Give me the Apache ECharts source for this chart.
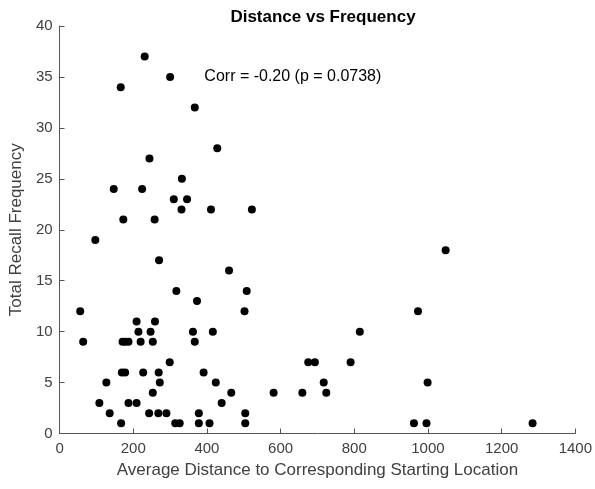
<!DOCTYPE html>
<html><head><meta charset="utf-8">
<script src="https://cdn.jsdelivr.net/npm/echarts@6/dist/echarts.min.js"></script>
<style>html,body{margin:0;padding:0;background:#fff}#c{width:595px;height:489px}</style>
</head><body><div id="c"></div>
<script>
const distance = [231,300,166,367,428,244,332,147,224,310,346,331,411,522,173,258,
  97,270,460,317,373,56,64,209,259,214,247,362,416,171,178,187,220,253,367,
  299,169,178,227,269,391,127,272,424,253,466,108,187,209,440,136,243,268,290,378,
  167,314,326,378,407,508,502,815,675,693,790,717,581,659,724,504,504,
  1048,973,999,962,996,1284];
const frequency = [37,35,34,32,28,27,25,24,24,23,23,22,22,22,21,21,
  19,17,16,14,13,12,9,11,11,10,10,10,10,9,9,9,9,9,9,
  7,6,6,6,6,6,5,5,5,4,4,3,3,3,3,2,2,2,2,2,
  1,1,1,1,1,14,12,10,7,7,7,5,4,4,4,2,1,
  18,12,5,1,1,1];
const xTicks = [0,200,400,600,800,1000,1200,1400];
const yTicks = [0,5,10,15,20,25,30,35,40];
const titleText = 'Distance vs Frequency';
const xLabel = 'Average Distance to Corresponding Starting Location';
const yLabel = 'Total Recall Frequency';
const corrText = 'Corr = -0.20 (p = 0.0738)';

const pts = distance.map((d,i)=>[d,frequency[i]]);
const chart = echarts.init(document.getElementById('c'));
const font = 'Liberation Sans, Arial, Helvetica, sans-serif';
chart.setOption({
  animation:false,
  textStyle:{fontFamily:font},
  title:{text:titleText,left:318,top:4,textAlign:'center',
    textStyle:{fontSize:17,fontWeight:'bold',color:'#000',fontFamily:font}},
  grid:{left:58.5,right:18.5,top:26,bottom:55.5},
  xAxis:{type:'value',min:xTicks[0],max:xTicks[xTicks.length-1],interval:200,
    name:xLabel,nameLocation:'middle',nameGap:27,
    nameTextStyle:{fontSize:17,color:'#404040'},
    axisLine:{onZero:false,lineStyle:{color:'#555',width:1}},
    axisTick:{inside:true,length:5,lineStyle:{color:'#555'}},
    axisLabel:{fontSize:15,color:'#404040',margin:8,formatter:v=>String(v)},
    splitLine:{show:false}},
  yAxis:{type:'value',min:yTicks[0],max:yTicks[yTicks.length-1],interval:5,
    name:yLabel,nameLocation:'middle',nameGap:33,
    nameTextStyle:{fontSize:17,color:'#404040'},
    axisLine:{show:true,onZero:false,lineStyle:{color:'#555',width:1}},
    axisTick:{show:true,inside:true,length:5,lineStyle:{color:'#555'}},
    axisLabel:{fontSize:15,color:'#404040',margin:7,formatter:v=>String(v)},
    splitLine:{show:false}},
  series:[{type:'scatter',data:pts,symbol:'circle',symbolSize:8,
    itemStyle:{color:'#000',opacity:1},
    markPoint:{symbol:'circle',symbolSize:0,
      data:[{coord:[393,35],value:corrText}],
      label:{show:true,position:'right',distance:0,formatter:corrText,
        fontSize:16,color:'#000',fontFamily:font}}}]
});
</script></body></html>
